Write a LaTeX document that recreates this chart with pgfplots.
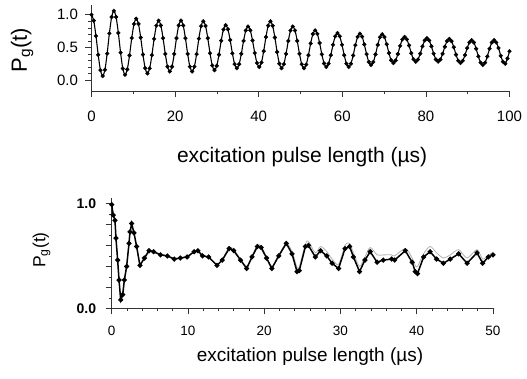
\documentclass[border=0pt]{standalone}
\usepackage{fontspec}
\setmainfont{Liberation Sans}
\usepackage{pgfplots}
\pgfplotsset{compat=1.18}
\begin{document}
\begin{tikzpicture}[x=1pt,y=1pt]
\useasboundingbox (0,0) rectangle (527,378);
\coordinate (topO) at (91.5,287);
\coordinate (botO) at (111.7,69.7);
\pgfplotsset{
  rabi/.style={
    scale only axis,
    anchor=south west,
    axis lines=left,
    axis line style={-, line width=0.7pt, black!80},
    tick align=outside,
    major tick length=6pt,
    minor tick length=3pt,
    every tick/.style={black!80, line width=0.6pt},
    /pgf/number format/assume math mode=true,
    clip=false,
  }
}
% ---------------- top panel ----------------
\begin{axis}[rabi,
  at={(topO)}, width=418pt, height=86pt,
  xmin=0, xmax=100, ymin=-0.17, ymax=1.15,
  xtick={0,20,...,100}, minor xtick={10,30,...,90},
  ytick={0,0.5,1}, minor ytick={0.1,0.2,0.3,0.4,0.6,0.7,0.8,0.9},
  xticklabel style={font=\fontsize{15}{15}\selectfont, yshift=-10pt},
  yticklabel style={font=\fontsize{15}{15}\selectfont, xshift=-4pt, /pgf/number format/fixed, /pgf/number format/fixed zerofill, /pgf/number format/precision=1},
  xlabel={excitation pulse length (µs)},
  xlabel style={font=\fontsize{21}{21}\selectfont, at={(axis description cs:0.504,-0.767)}, anchor=center},
  ylabel={P\textsubscript{g}(t)},
  ylabel style={font=\fontsize{22}{22}\selectfont, at={(axis description cs:-0.166,0.477)}, anchor=center},
]
\pgfplotstableread{
t v
0 1.00
0.535 0.91
1.07 0.675
1.605 0.385
2.14 0.15
2.675 0.06
3.21 0.155
3.745 0.405
4.28 0.715
4.815 0.965
5.35 1.06
5.885 0.966
6.42 0.721
6.955 0.419
7.49 0.174
8.025 0.08
8.56 0.162
9.095 0.377
9.63 0.643
10.165 0.858
10.7 0.94
11.235 0.86
11.77 0.65
12.305 0.39
12.84 0.18
13.375 0.10
13.91 0.177
14.445 0.380
14.98 0.630
15.515 0.833
16.05 0.91
16.585 0.836
17.12 0.641
17.655 0.399
18.19 0.204
18.725 0.13
19.26 0.204
19.795 0.399
20.33 0.641
20.865 0.836
21.4 0.91
21.935 0.836
22.47 0.641
23.005 0.399
23.54 0.204
24.075 0.13
24.61 0.204
25.145 0.396
25.68 0.634
26.215 0.826
26.75 0.90
27.285 0.828
27.82 0.641
28.355 0.409
28.89 0.222
29.425 0.15
29.96 0.216
30.495 0.388
31.03 0.602
31.565 0.774
32.1 0.84
32.635 0.777
33.17 0.612
33.705 0.408
34.24 0.243
34.775 0.18
35.31 0.241
35.845 0.401
36.38 0.599
36.915 0.759
37.45 0.82
37.985 0.761
38.52 0.606
39.055 0.414
39.59 0.259
40.125 0.20
40.66 0.267
41.195 0.442
41.73 0.658
42.265 0.833
42.8 0.90
43.335 0.831
43.87 0.651
44.405 0.429
44.94 0.249
45.475 0.18
46.01 0.241
46.545 0.401
47.08 0.599
47.615 0.759
48.15 0.82
48.685 0.759
49.22 0.599
49.755 0.401
50.29 0.241
50.825 0.18
51.36 0.235
51.895 0.380
52.43 0.560
52.965 0.705
53.5 0.76
54.035 0.707
54.57 0.567
55.105 0.393
55.64 0.253
56.175 0.20
56.71 0.250
57.245 0.380
57.78 0.540
58.315 0.670
58.85 0.72
59.385 0.670
59.92 0.540
60.455 0.380
60.99 0.250
61.525 0.20
62.06 0.249
62.595 0.376
63.13 0.534
63.665 0.661
64.2 0.71
64.735 0.664
65.27 0.544
65.805 0.396
66.34 0.276
66.875 0.23
67.41 0.275
67.945 0.392
68.48 0.538
69.015 0.655
69.55 0.70
70.085 0.658
70.62 0.548
71.155 0.412
71.69 0.302
72.225 0.26
72.76 0.298
73.295 0.398
73.83 0.522
74.365 0.622
74.9 0.66
75.435 0.624
75.97 0.529
76.505 0.411
77.04 0.316
77.575 0.28
78.11 0.314
78.645 0.404
79.18 0.516
79.715 0.606
80.25 0.64
80.785 0.606
81.32 0.516
81.855 0.404
82.39 0.314
82.925 0.28
83.46 0.313
83.995 0.401
84.53 0.509
85.065 0.597
85.6 0.63
86.135 0.595
86.67 0.502
87.205 0.388
87.74 0.295
88.275 0.26
88.81 0.293
89.345 0.381
89.88 0.489
90.415 0.577
90.95 0.61
91.485 0.574
92.02 0.479
92.555 0.361
93.09 0.266
93.625 0.23
94.16 0.266
94.695 0.361
95.23 0.479
95.765 0.574
96.3 0.61
96.835 0.574
97.37 0.49
97.905 0.37
98.44 0.28
98.975 0.25
99.51 0.33
100 0.44
}\toptable
\addplot[black, line width=1.1pt, smooth] table[x=t,y=v] {\toptable};
\addplot[only marks, mark=*, mark size=1.9pt, black] table[x=t,y=v] {\toptable};
\end{axis}
% ---------------- bottom panel ----------------
\begin{axis}[rabi,
  at={(botO)}, width=381.3pt, height=110pt,
  xmin=0, xmax=50, ymin=0, ymax=1.05,
  xtick={0,10,...,50}, minor xtick={2,4,6,8,12,14,16,18,22,24,26,28,32,34,36,38,42,44,46,48},
  ytick={0,1}, extra y ticks={0.2,0.4,0.6,0.8}, extra y tick labels={},
  minor ytick={0.1,0.3,0.5,0.7,0.9},
  xticklabel style={font=\fontsize{13.5}{13.5}\selectfont, yshift=-8.4pt},
  yticklabel style={font=\bfseries\fontsize{14}{14}\selectfont, xshift=-6pt, /pgf/number format/fixed, /pgf/number format/fixed zerofill, /pgf/number format/precision=1},
  xlabel={excitation pulse length (µs)},
  xlabel style={font=\fontsize{19}{19}\selectfont, at={(axis description cs:0.52,-0.443)}, anchor=center},
  ylabel={P\textsubscript{g}(t)},
  ylabel style={font=\fontsize{17.5}{17.5}\selectfont, at={(axis description cs:-0.184,0.53)}, anchor=center},
]
\addplot[gray!60, line width=0.8pt, smooth] coordinates {
(0,0.99) (0.2,0.89) (0.43,0.84) (0.56,0.67) (0.78,0.46) (0.96,0.27) (1.18,0.08)
(1.44,0.13) (1.66,0.27) (1.96,0.40) (2.27,0.62) (2.4,0.72) (2.62,0.76) (2.92,0.72)
(3.27,0.59) (3.7,0.42) (4.3,0.49) (4.9,0.55) (5.5,0.54) (6.4,0.52) (7.3,0.50)
(8.2,0.48) (9.0,0.48) (9.9,0.50) (10.8,0.54) (11.3,0.55) (11.9,0.51) (12.7,0.49)
(13.8,0.42) (14.5,0.47) (15.4,0.58) (16.0,0.56) (16.9,0.47) (17.7,0.40) (18.4,0.50)
(19.1,0.60) (19.6,0.59) (20.3,0.49) (21.0,0.40) (21.9,0.51) (22.9,0.62) (23.65,0.54)
(24.3,0.39) (24.6,0.40) (25.4,0.61) (25.8,0.64) (26.7,0.53) (27.4,0.59) (28.2,0.54)
(28.9,0.47) (29.75,0.42) (30.6,0.60) (31.2,0.62) (31.7,0.53) (32.5,0.40) (33.2,0.49)
(33.9,0.58) (34.8,0.51) (35.6,0.51) (36.7,0.51) (37.1,0.50) (38.5,0.57) (39.4,0.48)
(39.8,0.41) (40.1,0.40) (40.9,0.52) (41.75,0.59) (42.6,0.53) (43.5,0.48) (44.4,0.51)
(45.5,0.56) (46.6,0.48) (47.9,0.56) (48.65,0.47) (49.4,0.51) (50,0.53)
};
\addplot[black, line width=1.5pt, mark=*, mark size=1.7pt] coordinates {
(0,0.99) (0.2,0.89) (0.43,0.84) (0.56,0.67) (0.78,0.46) (0.96,0.27) (1.18,0.08)
(1.44,0.13) (1.66,0.27) (1.96,0.40) (2.27,0.62) (2.4,0.73) (2.62,0.81) (2.92,0.72)
(3.27,0.59) (3.7,0.41) (4.3,0.48) (4.9,0.55) (5.5,0.54) (6.4,0.51) (7.3,0.50)
(8.2,0.47) (9.0,0.48) (9.9,0.49) (10.8,0.54) (11.3,0.55) (11.9,0.50) (12.7,0.49)
(13.8,0.41) (14.5,0.46) (15.4,0.57) (16.0,0.55) (16.9,0.46) (17.7,0.38) (18.4,0.49)
(19.1,0.59) (19.6,0.58) (20.3,0.48) (21.0,0.38) (21.9,0.50) (22.9,0.62) (23.65,0.52)
(24.3,0.35) (24.6,0.36) (25.4,0.59) (25.8,0.60) (26.7,0.49) (27.4,0.55) (28.2,0.50)
(28.9,0.43) (29.75,0.38) (30.6,0.57) (31.2,0.59) (31.7,0.49) (32.5,0.35) (33.2,0.46)
(33.9,0.54) (34.8,0.44) (35.6,0.46) (36.7,0.47) (37.1,0.46) (38.5,0.55) (39.4,0.44)
(39.8,0.35) (40.1,0.33) (40.9,0.49) (41.75,0.54) (42.6,0.47) (43.5,0.43) (44.4,0.47)
(45.5,0.52) (46.6,0.43) (47.9,0.53) (48.65,0.43) (49.4,0.49) (50,0.51)
};
\end{axis}
\end{tikzpicture}
\end{document}
